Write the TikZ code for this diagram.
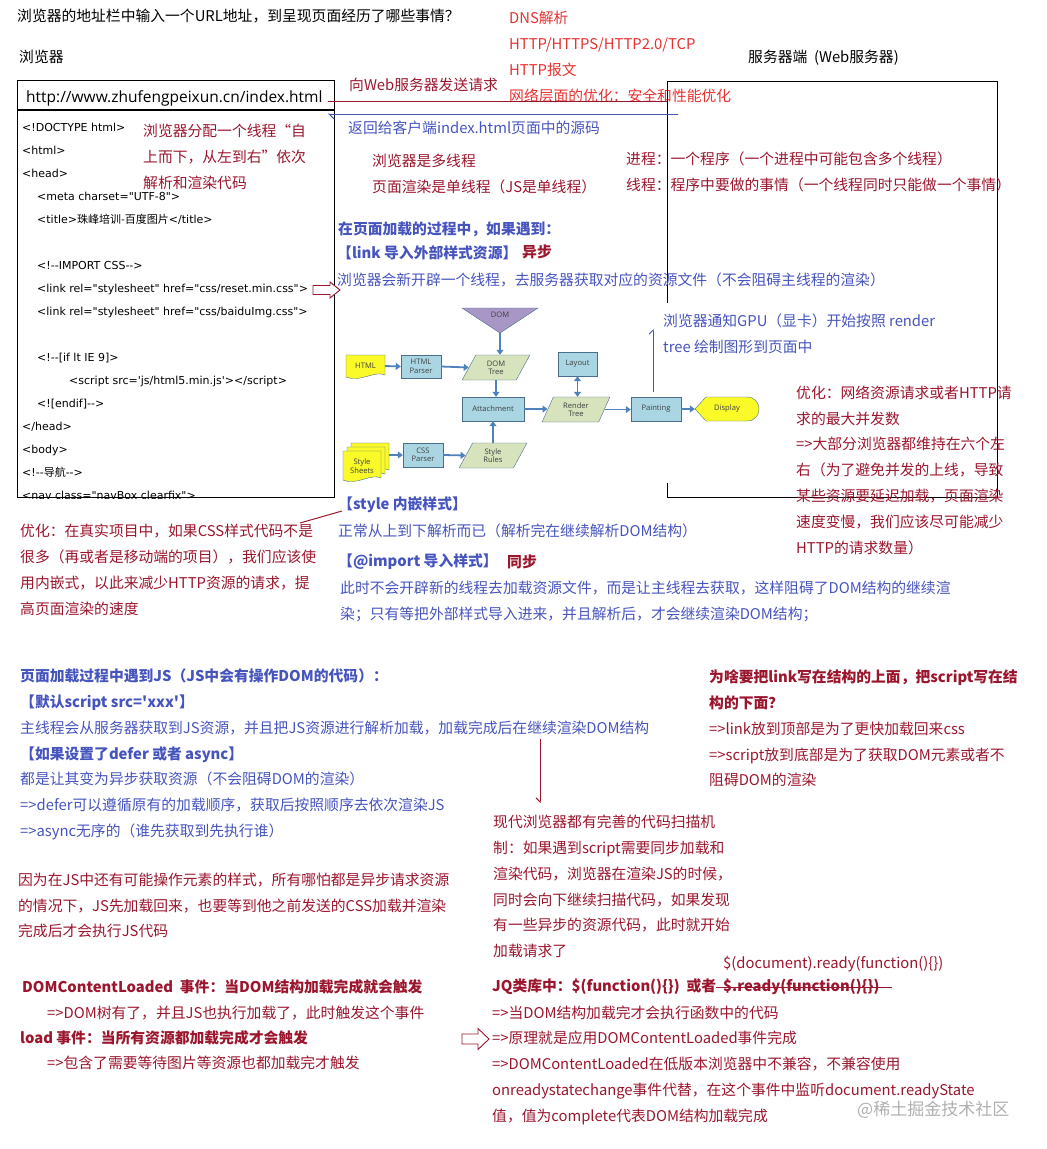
\documentclass[tikz,border=0pt]{standalone}
\usepackage{fontspec}
\usepackage{tikz}
\usetikzlibrary{arrows.meta}
\usetikzlibrary{shapes.geometric}

\newfontfamily\cn{Noto Sans CJK SC}
\newfontfamily\lat{Open Sans}
\newfontfamily\tah{DejaVu Sans}

\definecolor{jsred}{RGB}{155,22,45}
\definecolor{netred}{RGB}{232,48,48}
\definecolor{jsblue}{RGB}{70,84,190}
\definecolor{fblue}{RGB}{170,214,228}
\definecolor{fgreen}{RGB}{214,227,188}
\definecolor{fyellow}{RGB}{250,250,40}
\definecolor{fpurple}{RGB}{168,150,198}
\definecolor{fline}{RGB}{79,129,189}
\definecolor{fborder}{RGB}{75,110,140}
\definecolor{wmgray}{RGB}{175,175,175}

\begin{document}
\begin{tikzpicture}[x=1pt,y=-1pt]
    \tikzset{txt/.style = {anchor=west,inner sep=0pt,align=left,font=\cn\fontsize{14.8}{25.8}\selectfont}}
    \tikzset{redtxt/.style = {txt,text=jsred}}
    \tikzset{bluetxt/.style = {txt,text=jsblue}}
    \tikzset{code/.style = {anchor=west,inner sep=0pt,align=left,font=\tah\fontsize{11}{23}\selectfont}}
    \tikzset{frame/.style = {shape=rectangle,draw,line width=1.1pt,anchor=north west,inner sep=0pt}}
    \tikzset{fbox/.style = {shape=rectangle,draw=fborder,fill=fblue,inner sep=0pt,align=center,text=black!75,font=\lat\fontsize{7.6}{8.4}\selectfont}}
    \tikzset{fpara/.style = {trapezium,trapezium left angle=66,trapezium right angle=114,trapezium stretches=true,draw=fborder,fill=fgreen,inner sep=0pt,minimum width=68pt,minimum height=25pt,align=center,text=black!75,font=\lat\fontsize{7.6}{8.4}\selectfont}}
    \tikzset{flabel/.style = {inner sep=0pt,align=center,text=black!75,font=\lat\fontsize{7.6}{8.4}\selectfont}}
    \tikzset{flow/.style = {-{Triangle[length=5pt,width=7pt]},draw=fline,line width=1.8pt}}
    \tikzset{flowboth/.style = {{Triangle[length=5pt,width=7pt]}-{Triangle[length=5pt,width=7pt]},draw=fline,line width=1.8pt}}
    \tikzset{hollow/.style = {draw=jsred,fill=white,line width=0.9pt,line join=miter}}
    \tikzset{edge/.style = {-,line width=1pt}}

    \useasboundingbox (0,0) rectangle (1047,1149);

    % headings
    \node[txt] (title) at (17,16) {浏览器的地址栏中输入一个URL地址，到呈现页面经历了哪些事情？};
    \node[txt] (brlabel) at (19,57) {浏览器};
    \node[txt] (svlabel) at (748,58) {服务器端\ \ (Web服务器)};
    \node[txt,text=netred] (net) at (509,57) {DNS解析\\HTTP/HTTPS/HTTP2.0/TCP\\HTTP报文\\网络层面的优化：安全和性能优化};

    % browser and server
    \node[frame,minimum width=317pt,minimum height=417pt] (browser) at (17,80) {};
    \node[frame,minimum width=330pt,minimum height=416pt] (server) at (667,81) {};
    \draw[line width=1.1pt] ([yshift=-30pt]browser.north west) to ([yshift=-30pt]browser.north east);
    \node[anchor=west,inner sep=0pt,font=\lat\fontsize{15.5}{18}\selectfont] (url) at (26,98) {http://www.zhufengpeixun.cn/index.html};

    \begin{scope}
    \clip (browser.south west) rectangle (browser.north east);
    \node[code] (source) at (22,311) {<!DOCTYPE html>\\<html>\\<head>\\
    \hspace*{15pt}<meta charset="UTF-8">\\
    \hspace*{15pt}<title>{\cn 珠峰培训-百度图片}</title>\\
    \mbox{}\\
    \hspace*{15pt}<!--IMPORT CSS-->\\
    \hspace*{15pt}<link rel="stylesheet" href="css/reset.min.css">\\
    \hspace*{15pt}<link rel="stylesheet" href="css/baiduImg.css">\\
    \mbox{}\\
    \hspace*{15pt}<!--[if lt IE 9]>\\
    \hspace*{47pt}<script src='js/html5.min.js'></script>\\
    \hspace*{15pt}<![endif]-->\\
    </head>\\<body>\\<!--{\cn 导航}-->\\<nav class="navBox clearfix">};
    \end{scope}

    \node[redtxt] (thread) at (143,157) {浏览器分配一个线程“自\\上而下，从左到右”依次\\解析和渲染代码};
    \draw[hollow] (313,285.5) -- (330,285.5) -- (330,282) -- (340,290) -- (330,298) -- (330,294.5) -- (313,294.5) -- cycle;

    % request and response
    \coordinate (sendA) at (328,101);
    \draw[edge,draw=jsred] (sendA) to (sendA -| server.west);
    \node[redtxt] (sendlbl) at (349,85) {向Web服务器发送请求};
    \coordinate (retA) at (678,114);
    \coordinate (retB) at (328,114);
    \draw[edge,draw=jsblue,-{Straight Barb[left,length=5pt,width=10pt]}] (retA) to (retB);
    \node[bluetxt] (retlbl) at (348,128) {返回给客户端index.html页面中的源码};

    \node[redtxt] (multi) at (372,174) {浏览器是多线程\\页面渲染是单线程（JS是单线程）};
    \node[redtxt] (process) at (626,171.5) {进程：一个程序（一个进程中可能包含多个线程）\\线程：程序中要做的事情（一个线程同时只能做一个事情）};

    \node[bluetxt] (loadhead) at (338,229) {\textbf{在页面加载的过程中，如果遇到：}};
    \node[bluetxt] (linkhead) at (337,253) {\textbf{【link 导入外部样式资源】}};
    \node[redtxt] (async) at (522,252) {\textbf{异步}};
    \node[bluetxt] (linktxt) at (337,280) {浏览器会新开辟一个线程，去服务器获取对应的资源文件（不会阻碍主线程的渲染）};

    % render pipeline
    \fill[white] (340,303) rectangle (770,483);
    \draw[fill=fpurple,draw=fborder] (462,308) -- (538,308) -- (500,333) -- cycle;
    \node[flabel] (dom) at (500,315) {DOM};
    \coordinate (domtip) at (500,333);
    \draw[fill=fyellow,draw=fborder] (346,355) -- (385,355) -- (385,375) .. controls (375,370) and (360,383) .. (346,377) -- cycle;
    \node[flabel,minimum width=39pt,minimum height=22pt] (htmldoc) at (365.5,366) {HTML};
    \draw[fill=fyellow,draw=fborder] (351,443) -- (389,443) -- (389,470) .. controls (379,465) and (364,478) .. (351,472) -- cycle;
    \draw[fill=fyellow,draw=fborder] (347,447) -- (385,447) -- (385,474) .. controls (375,469) and (360,482) .. (347,476) -- cycle;
    \draw[fill=fyellow,draw=fborder] (343,451) -- (381,451) -- (381,478) .. controls (371,473) and (356,486) .. (343,480) -- cycle;
    \node[flabel,minimum width=54pt,minimum height=30pt] (sheets) at (362,466) {Style\\Sheets};
    \draw[fill=fyellow,draw=fborder] (695,409) -- (706,397) -- (747,397) .. controls (763,397) and (763,421) .. (747,421) -- (706,421) -- cycle;
    \node[flabel,minimum width=64pt,minimum height=24pt] (display) at (727,409) {Display};

    \node[fbox,minimum width=40pt,minimum height=23pt] (htmlparser) at (421,366.5) {HTML\\Parser};
    \node[fpara] (domtree) at (496,367.5) {DOM\\Tree};
    \node[fbox,minimum width=62pt,minimum height=24pt] (attach) at (493,409) {Attachment};
    \node[fbox,minimum width=39pt,minimum height=24pt] (layout) at (577.5,364) {Layout};
    \node[fpara] (rendertree) at (576,409.5) {Render\\Tree};
    \node[fbox,minimum width=50pt,minimum height=24pt] (painting) at (656,409) {Painting};
    \node[fbox,minimum width=40pt,minimum height=24pt] (cssparser) at (423,455) {CSS\\Parser};
    \node[fpara] (stylerules) at (493,455.5) {Style\\Rules};

    \draw[flow] (htmldoc.east) to (htmlparser.west);
    \draw[flow] (htmlparser.east) to (domtree.west);
    \draw[flow] (domtip) to (domtip |- domtree.north);
    \draw[flow] (domtree.south) to (domtree.south |- attach.north);
    \draw[flow] (attach.east) to (attach.east -| rendertree.west);
    \draw[flowboth] (layout.south) to (layout.south |- rendertree.north);
    \draw[flow] (rendertree.east) to (rendertree.east -| painting.west);
    \draw[flow] (painting.east) to (display.west);
    \draw[flow] (sheets.east |- cssparser.west) to (cssparser.west);
    \draw[flow] (cssparser.east) to (stylerules.west);
    \draw[flow] (stylerules.north) to (stylerules.north |- attach.south);

    \node[bluetxt] (gpu) at (663,334) {浏览器通知GPU（显卡）开始按照 render\\tree 绘制图形到页面中};
    \coordinate (gpuend) at (653,329);
    \draw[edge,draw=jsblue,-{Straight Barb[left,length=4pt,width=8pt]}] ([yshift=5pt]painting.north -| gpuend) to (gpuend);

    % optimisation notes
    \node[redtxt] (optnet) at (796,470) {优化：网络资源请求或者HTTP请\\求的最大并发数\\=>大部分浏览器都维持在六个左\\右（为了避免并发的上线，导致\\某些资源要延迟加载，页面渲染\\速度变慢，我们应该尽可能减少\\HTTP的请求数量）};
    \node[redtxt] (optcss) at (20,570) {优化：在真实项目中，如果CSS样式代码不是\\很多（再或者是移动端的项目），我们应该使\\用内嵌式，以此来减少HTTP资源的请求，提\\高页面渲染的速度};
    \coordinate (optA) at (300,523);
    \coordinate (optB) at (342,511);
    \draw[edge,draw=jsred] (optA) to (optB);

    \node[bluetxt] (stylehead) at (338,505) {\textbf{【style 内嵌样式】}};
    \node[bluetxt] (styletxt) at (338,531) {正常从上到下解析而已（解析完在继续解析DOM结构）};
    \node[bluetxt] (importhead) at (338,562) {\textbf{【@import 导入样式】}};
    \node[redtxt] (sync) at (507,562) {\textbf{同步}};
    \node[bluetxt] (importtxt) at (340,601.5) {此时不会开辟新的线程去加载资源文件，而是让主线程去获取，这样阻碍了DOM结构的继续渲\\染；只有等把外部样式导入进来，并且解析后，才会继续渲染DOM结构；};

    % scripts
    \node[bluetxt] (jshead) at (20,754.5) {\textbf{页面加载过程中遇到JS（JS中会有操作DOM的代码）：}\\\textbf{【默认script src='xxx'】}\\主线程会从服务器获取到JS资源，并且把JS资源进行解析加载，加载完成后在继续渲染DOM结构\\\textbf{【如果设置了defer 或者 async】}\\都是让其变为异步获取资源（不会阻碍DOM的渲染）\\=>defer可以遵循原有的加载顺序，获取后按照顺序去依次渲染JS\\=>async无序的（谁先获取到先执行谁）};
    \node[redtxt] (jsnote) at (18,905.5) {因为在JS中还有可能操作元素的样式，所有哪怕都是异步请求资源\\的情况下，JS先加载回来，也要等到他之前发送的CSS加载并渲染\\完成后才会执行JS代码};
    \coordinate (scanA) at (540,739);
    \coordinate (scanB) at (540,803);
    \draw[edge,draw=jsred,-{Straight Barb[right,length=4pt,width=8pt]}] (scanA) to (scanB);
    \node[redtxt] (scan) at (493,886.5) {现代浏览器都有完善的代码扫描机\\制：如果遇到script需要同步加载和\\渲染代码，浏览器在渲染JS的时候，\\同时会向下继续扫描代码，如果发现\\有一些异步的资源代码，此时就开始\\加载请求了};
    \node[redtxt] (why) at (709,728.5) {\textbf{为啥要把link写在结构的上面，把script写在结}\\\textbf{构的下面？}\\=>link放到顶部是为了更快加载回来css\\=>script放到底部是为了获取DOM元素或者不\\阻碍DOM的渲染};

    % events
    \node[redtxt] (dcl) at (22,987) {\textbf{DOMContentLoaded\ \ 事件：当DOM结构加载完成就会触发}};
    \node[redtxt] (dcltxt) at (47,1013) {=>DOM树有了，并且JS也执行加载了，此时触发这个事件};
    \node[redtxt] (load) at (20,1038) {\textbf{load 事件：当所有资源都加载完成才会触发}};
    \node[redtxt] (loadtxt) at (47,1063) {=>包含了需要等待图片等资源也都加载完才触发};

    \node[redtxt] (docready) at (723,964) {\$(document).ready(function()\{\})};
    \node[redtxt] (jq) at (492,987) {\textbf{JQ类库中：\$(function()\{\})\ \ 或者}};
    \node[redtxt] (jqold) at (723,987) {\textbf{\$.ready(function()\{\})}};
    \draw[edge,draw=jsred] ([xshift=-7pt,yshift=-0.5pt]jqold.west) to ([xshift=12pt,yshift=-0.5pt]jqold.east);
    \node[redtxt] (jqlist) at (492,1065) {=>当DOM结构加载完才会执行函数中的代码\\=>原理就是应用DOMContentLoaded事件完成\\=>DOMContentLoaded在低版本浏览器中不兼容，不兼容使用\\onreadystatechange事件代替，在这个事件中监听document.readyState\\值，值为complete代表DOM结构加载完成};
    \draw[hollow] (462,1034) -- (478,1034) -- (478,1028.5) -- (489,1039) -- (478,1049.5) -- (478,1044) -- (462,1044) -- cycle;

    \node[txt,text=wmgray,font=\cn\fontsize{17}{20}\selectfont] (mark) at (857,1110) {@稀土掘金技术社区};
\end{tikzpicture}
\end{document}
